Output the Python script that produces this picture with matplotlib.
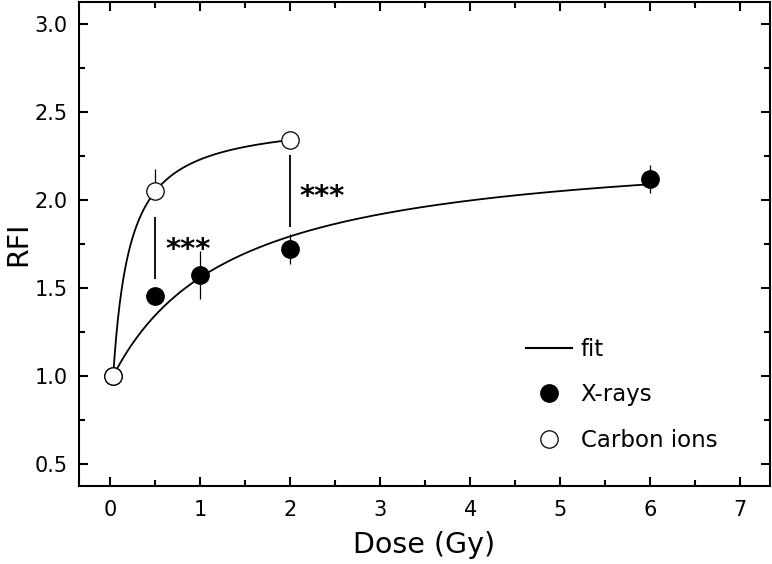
"""
RFI vs dose for X-rays and carbon ions, with hyperbolic fits
"""
import numpy as np
import matplotlib
matplotlib.use('Agg')
import matplotlib.pyplot as plt
from matplotlib.lines import Line2D
from matplotlib.ticker import MultipleLocator

# ---- data ----
xray_dose = [0.03, 0.5, 1.0, 2.0, 6.0]
xray_rfi = [1.00, 1.455, 1.575, 1.72, 2.12]
xray_err = [0.0, 0.04, 0.135, 0.085, 0.08]

carbon_dose = [0.03, 0.5, 2.0]
carbon_rfi = [1.00, 2.053, 2.34]
carbon_err_lo = [0.0, 0.05, 0.03]
carbon_err_hi = [0.0, 0.125, 0.03]

# fit: RFI = 1 + a*d/(b + d), d measured from the first point
xray_fit = (1.334, 1.34)
carbon_fit = (1.468, 0.187)
fit_start = 0.03

# significance bars (dose, low, high) and star labels (dose, rfi)
sig_dose = [0.5, 2.0]
sig_low = [1.55, 1.847]
sig_high = [1.905, 2.256]
star_x = [0.86, 2.35]
star_y = [1.763, 2.068]


def fit_curve(d, a, b):
    t = d - fit_start
    return 1 + a * t / (b + t)


fig = plt.figure(figsize=(7.72, 5.64), dpi=100)
ax = fig.add_axes([0.1023, 0.1383, 0.8951, 0.8582])

# fitted curves
d1 = np.linspace(fit_start, max(xray_dose), 300)
ax.plot(d1, fit_curve(d1, *xray_fit), color='black', lw=1.3, zorder=2)
d2 = np.linspace(fit_start, max(carbon_dose), 300)
ax.plot(d2, fit_curve(d2, *carbon_fit), color='black', lw=1.3, zorder=2)

# significance bars
ax.vlines(sig_dose, sig_low, sig_high, color='black', lw=1.3, zorder=2)
for x, y in zip(star_x, star_y):
    ax.text(x, y - 0.095, '***', ha='center', va='baseline',
            fontsize=21, fontweight='bold')

# data points
ax.errorbar(xray_dose, xray_rfi, yerr=xray_err, fmt='o', color='black',
            mfc='black', mec='black', ms=12.5, elinewidth=0.9, capsize=0,
            zorder=3)
ax.errorbar(carbon_dose, carbon_rfi, yerr=[carbon_err_lo, carbon_err_hi],
            fmt='o', color='black', mfc='white', mec='black', mew=0.9,
            ms=12.5, elinewidth=0.9, capsize=0, zorder=4)

# axes
ax.set_xlim(-0.35, 7.33)
ax.set_ylim(0.375, 3.125)
ax.xaxis.set_major_locator(MultipleLocator(1))
ax.xaxis.set_minor_locator(MultipleLocator(0.5))
ax.yaxis.set_major_locator(MultipleLocator(0.5))
ax.yaxis.set_minor_locator(MultipleLocator(0.25))
ax.yaxis.set_major_formatter(plt.FormatStrFormatter('%.1f'))
ax.tick_params(which='both', direction='in', top=True, right=True, width=1.5)
ax.tick_params(which='major', length=6.5, labelsize=15)
ax.tick_params(axis='x', which='major', pad=10)
ax.tick_params(axis='y', which='major', pad=8)
ax.tick_params(which='minor', length=4.5)
for sp in ax.spines.values():
    sp.set_linewidth(1.5)

ax.set_xlabel('Dose (Gy)', fontsize=20.5, labelpad=8)
ax.set_ylabel('RFI', fontsize=20.5)
ax.yaxis.set_label_coords(-0.068, 0.5)

# legend
handles = [
    Line2D([], [], color='black', lw=1.5),
    Line2D([], [], ls='none', marker='o', ms=12.5, mfc='black', mec='black'),
    Line2D([], [], ls='none', marker='o', ms=12.5, mfc='white', mec='black',
           mew=0.9),
]
labels = ['fit', 'X-rays', 'Carbon ions']
ax.legend(handles, labels, loc='upper left',
          bbox_to_anchor=(0.681, 0.401), bbox_transform=fig.transFigure,
          frameon=False, fontsize=16.5, handlelength=2.0,
          handletextpad=0.4, labelspacing=0.98, borderpad=0,
          borderaxespad=0)

plt.savefig('out.png', dpi=100)
plt.close()
